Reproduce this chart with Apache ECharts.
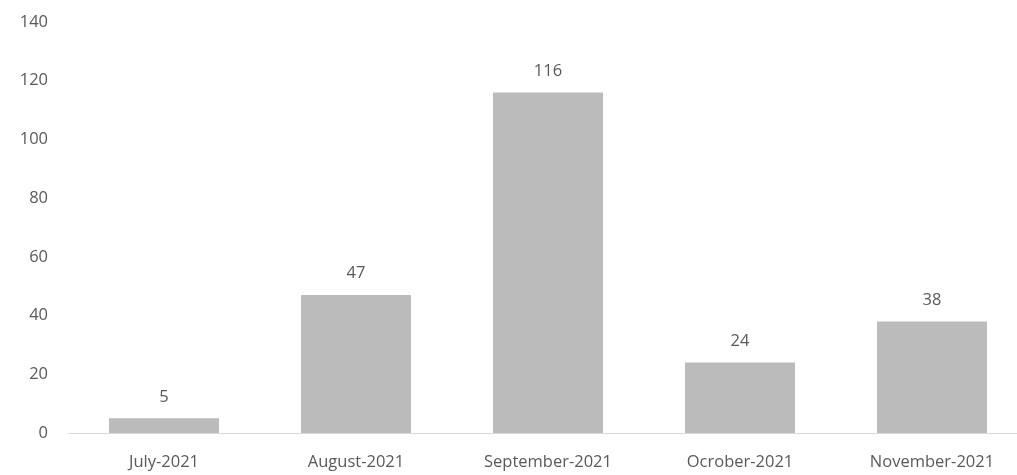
<!DOCTYPE html>
<html>
<head>
<meta charset="utf-8">
<script src="https://cdn.jsdelivr.net/npm/echarts@6/dist/echarts.min.js"></script>
<style>
  html, body { margin: 0; padding: 0; background: #fff; }
  #main { width: 1017px; height: 475px; }
</style>
</head>
<body>
<div id="main"></div>
<script>
// monthly counts
const months = ['July-2021', 'August-2021', 'September-2021', 'Ocrober-2021', 'November-2021'];
const counts = [5, 47, 116, 24, 38];
const yTicks = [0, 20, 40, 60, 80, 100, 120, 140];

const textColor = '#595959';
const fontFam = '"Open Sans", "Noto Sans", sans-serif';

let myChart = echarts.init(document.getElementById('main'));
myChart.setOption({
    animation: false,
    grid: { left: 68, top: 22, right: -11, bottom: 42, containLabel: false, outerBoundsMode: 'none' },
    xAxis: {
        type: 'category',
        data: months,
        axisLine: { lineStyle: { color: '#d9d9d9', width: 1 } },
        axisTick: { show: false },
        axisLabel: { color: textColor, fontSize: 16.5, fontFamily: fontFam, margin: 21 }
    },
    yAxis: {
        type: 'value',
        min: yTicks[0],
        max: yTicks[yTicks.length - 1],
        interval: 20,
        splitLine: { show: false },
        axisLine: { show: false },
        axisTick: { show: false },
        axisLabel: { color: textColor, fontSize: 16.5, fontFamily: fontFam, margin: 20 }
    },
    series: [{
        type: 'bar',
        data: counts,
        barWidth: 110,
        itemStyle: { color: '#bbbbbb' },
        label: {
            show: true,
            position: 'top',
            distance: 13,
            color: textColor,
            fontSize: 16.5,
            fontFamily: fontFam
        }
    }]
});
</script>
</body>
</html>
